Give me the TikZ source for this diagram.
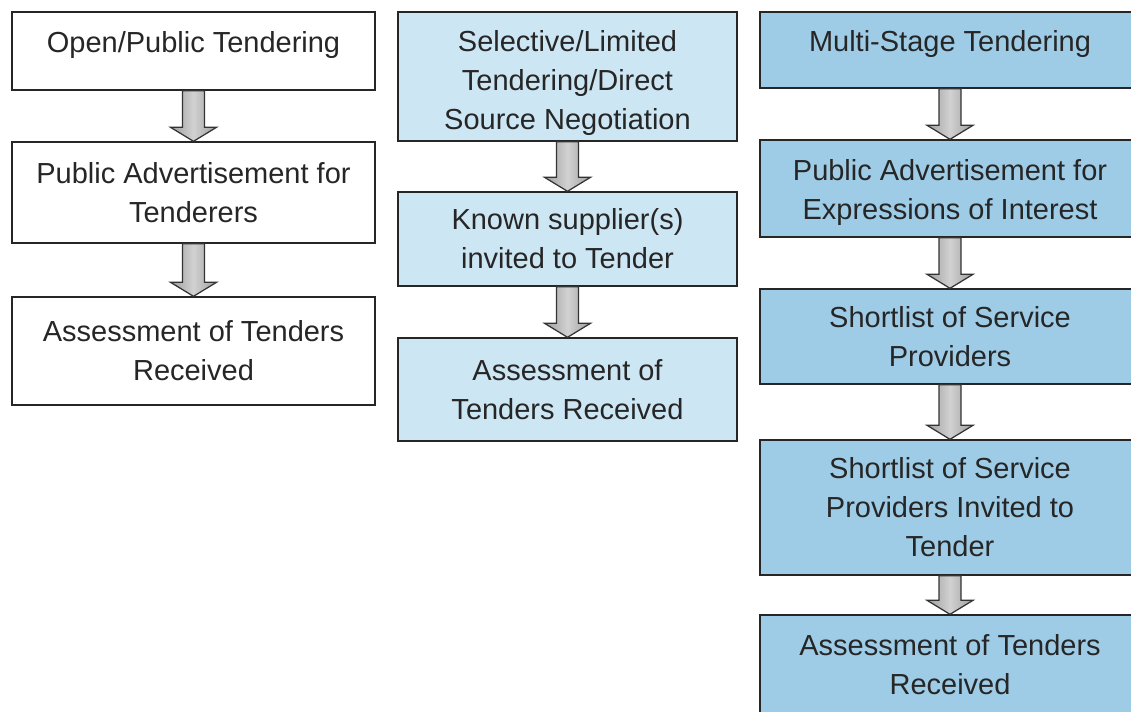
\documentclass[tikz,border=0pt]{standalone}
\usepackage{fontspec}
\setmainfont{Liberation Sans}
\usepackage{tikz}
\usetikzlibrary{calc}

\definecolor{selblue}{HTML}{CDE6F3}
\definecolor{multiblue}{HTML}{9ECCE6}

\tikzset{
  stagebox/.style={draw=black!85, line width=0.8pt, inner sep=0pt, align=center,
    font=\fontsize{16.5}{22.2}\selectfont, text=black!85},
  blockarrow/.style={draw=black!80, line width=0.7pt, left color=black!38,
    right color=black!38, middle color=black!18, line join=miter}
}

\begin{document}
\begin{tikzpicture}[x=0.02cm, y=-0.02cm]
        \useasboundingbox (0,0) rectangle (1131,711);

        % Open/public tendering column
        \node[stagebox, fill=white, minimum width=7.26cm, minimum height=1.56cm,
          text height=12pt, text depth=10.6pt] (O1) at (193.5,51) {Open/Public Tendering};
        \node[stagebox, fill=white, minimum width=7.26cm, minimum height=2.02cm] (O2) at (193.5,192.5)
          {Public Advertisement for\\Tenderers};
        \node[stagebox, fill=white, minimum width=7.26cm, minimum height=2.16cm] (O3) at (193.5,351)
          {Assessment of Tenders\\Received};

        % Selective/limited tendering column
        \node[stagebox, fill=selblue, minimum width=6.78cm, minimum height=2.58cm] (S1) at (567.5,76.5)
          {\rule{0pt}{19pt}Selective/Limited\\Tendering/Direct\\Source Negotiation};
        \node[stagebox, fill=selblue, minimum width=6.78cm, minimum height=1.88cm] (S2) at (567.5,239)
          {Known supplier(s)\\invited to Tender};
        \node[stagebox, fill=selblue, minimum width=6.78cm, minimum height=2.06cm] (S3) at (567.5,389.5)
          {Assessment of\\Tenders Received};

        % Multi-stage tendering column
        \node[stagebox, fill=multiblue, minimum width=7.6cm, minimum height=1.52cm,
          text height=12pt, text depth=10.6pt] (M1) at (950,50) {Multi-Stage Tendering};
        \node[stagebox, fill=multiblue, minimum width=7.6cm, minimum height=1.94cm] (M2) at (950,188.5)
          {\rule{0pt}{16.5pt}Public Advertisement for\\Expressions of Interest};
        \node[stagebox, fill=multiblue, minimum width=7.6cm, minimum height=1.9cm] (M3) at (950,336.5)
          {Shortlist of Service\\Providers};
        \node[stagebox, fill=multiblue, minimum width=7.6cm, minimum height=2.7cm] (M4) at (950,507.5)
          {Shortlist of Service\\Providers Invited to\\Tender};
        \node[stagebox, fill=multiblue, minimum width=7.6cm, minimum height=2.0cm] (M5) at (950,665)
          {Assessment of Tenders\\Received};

        % Block arrows between stages
        \foreach \a/\b in {O1/O2, O2/O3, S1/S2, S2/S3, M1/M2, M2/M3, M3/M4, M4/M5} {
          \draw[blockarrow] ($(\a.south)+(-11,0)$) -- ($(\b.north)+(-11,-14)$)
            -- ($(\b.north)+(-23,-14)$) -- (\b.north) -- ($(\b.north)+(23,-14)$)
            -- ($(\b.north)+(11,-14)$) -- ($(\a.south)+(11,0)$) -- cycle;
        }

    \end{tikzpicture}
\end{document}
